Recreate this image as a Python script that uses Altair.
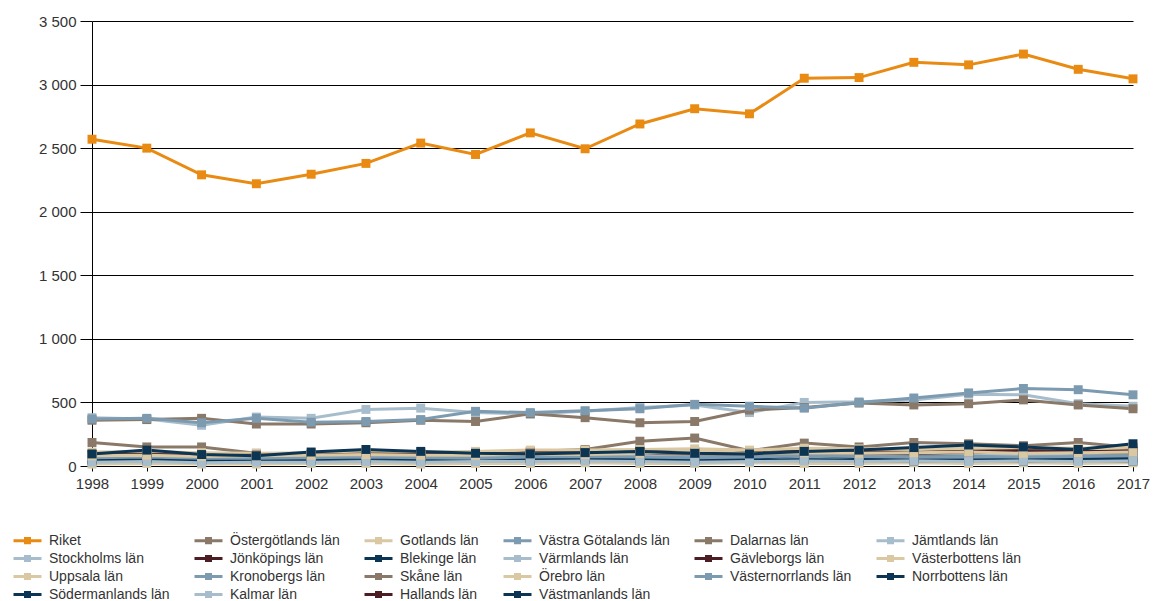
import altair as alt
import pandas as pd

years = list(range(1998, 2018))

series_names = [
    "Riket", "Stockholms län", "Uppsala län", "Södermanlands län",
    "Östergötlands län", "Jönköpings län", "Kronobergs län", "Kalmar län",
    "Gotlands län", "Blekinge län", "Skåne län", "Hallands län",
    "Västra Götalands län", "Värmlands län", "Örebro län", "Västmanlands län",
    "Dalarnas län", "Gävleborgs län", "Västernorrlands län", "Jämtlands län",
    "Västerbottens län", "Norrbottens län",
]

riket = [2570, 2500, 2290, 2220, 2295, 2380, 2540, 2450, 2620, 2495,
         2690, 2810, 2770, 3050, 3055, 3175, 3155, 3240, 3120, 3045]
stockholm = [380, 370, 320, 385, 375, 445, 455, 420, 410, 430,
             460, 480, 420, 500, 505, 520, 565, 560, 490, 470]
uppsala = [95, 100, 90, 85, 95, 100, 105, 100, 110, 115,
           105, 110, 115, 120, 125, 115, 120, 135, 130, 140]
sodermanland = [60, 65, 45, 55, 65, 70, 70, 60, 65, 70,
                75, 70, 65, 80, 75, 70, 80, 70, 75, 80]
ostergotland = [185, 150, 150, 100, 95, 105, 100, 100, 115, 130,
                195, 220, 120, 180, 150, 185, 175, 160, 185, 145]
jonkoping = [90, 95, 85, 80, 90, 100, 95, 100, 110, 120,
             120, 110, 110, 120, 115, 110, 120, 125, 115, 110]
kronoberg = [50, 55, 45, 50, 45, 55, 50, 45, 55, 50,
             60, 55, 50, 55, 60, 55, 50, 55, 60, 55]
kalmar = [70, 75, 70, 65, 70, 80, 75, 70, 75, 80,
          85, 80, 75, 85, 80, 90, 85, 80, 85, 90]
gotland = [15, 20, 15, 15, 20, 20, 15, 20, 20, 25,
           20, 20, 25, 20, 20, 25, 20, 25, 20, 25]
blekinge = [40, 45, 30, 40, 45, 40, 45, 40, 45, 50,
            45, 40, 45, 50, 45, 40, 45, 40, 45, 40]
skane = [360, 365, 375, 330, 330, 340, 360, 350, 410, 380,
         340, 350, 440, 460, 495, 480, 490, 520, 480, 450]
halland = [70, 75, 70, 75, 80, 85, 80, 85, 95, 100,
           100, 95, 90, 100, 105, 100, 110, 115, 110, 120]
vastra_gotaland = [370, 375, 340, 375, 345, 350, 365, 430, 420, 435,
                   450, 485, 470, 455, 500, 535, 575, 610, 600, 560]
varmland = [80, 85, 80, 75, 80, 90, 85, 80, 90, 95,
            95, 90, 85, 100, 95, 100, 95, 90, 95, 100]
orebro = [110, 115, 105, 100, 105, 115, 110, 115, 125, 125,
          130, 135, 125, 140, 135, 130, 140, 145, 140, 150]
vastmanland = [55, 60, 45, 55, 60, 60, 65, 60, 60, 65,
               60, 55, 55, 90, 65, 70, 70, 65, 60, 65]
dalarna = [90, 95, 85, 80, 85, 90, 90, 95, 100, 105,
           100, 95, 90, 100, 95, 100, 105, 110, 105, 100]
gavleborg = [85, 90, 80, 85, 85, 95, 90, 90, 100, 100,
             110, 105, 100, 110, 105, 100, 110, 115, 105, 115]
vasternorrland = [65, 70, 60, 60, 65, 70, 65, 60, 70, 75,
                  70, 65, 70, 80, 75, 70, 75, 70, 75, 80]
jamtland = [30, 35, 25, 30, 30, 35, 30, 35, 35, 40,
            35, 30, 35, 40, 35, 40, 35, 40, 35, 40]
vasterbotten = [80, 85, 75, 80, 85, 90, 85, 85, 95, 90,
                100, 120, 100, 105, 100, 105, 110, 100, 105, 110]
norrbotten = [95, 125, 90, 80, 110, 130, 115, 100, 95, 105,
              115, 100, 95, 115, 125, 145, 165, 150, 130, 175]

series_values = [
    riket, stockholm, uppsala, sodermanland, ostergotland, jonkoping,
    kronoberg, kalmar, gotland, blekinge, skane, halland, vastra_gotaland,
    varmland, orebro, vastmanland, dalarna, gavleborg, vasternorrland,
    jamtland, vasterbotten, norrbotten,
]

# Riket in orange, the counties cycle through a six-colour palette
orange = "#e98a12"
cycle = ["#a8bdcc", "#d9c8a2", "#0c3554", "#8a7868", "#4d1d24", "#7d9bb0"]
series_colors = [orange] + [cycle[i % 6] for i in range(21)]

# The legend is filled row by row in 6 columns; reorder the entries so
# the series read down each column (columns of 4, 4, 4, 4, 3, 3).
col_sizes = [4, 4, 4, 4, 3, 3]
columns_list = []
start = 0
for size in col_sizes:
    columns_list.append(list(range(start, start + size)))
    start += size
legend_idx = []
for r in range(max(col_sizes)):
    for col in columns_list:
        if r < len(col):
            legend_idx.append(col[r])
legend_domain = [series_names[i] for i in legend_idx]
legend_range = [series_colors[i] for i in legend_idx]

records = []
for k, (name, vals) in enumerate(zip(series_names, series_values)):
    for yr, v in zip(years, vals):
        records.append({"series": name, "year": str(yr), "value": v, "k": k})
df = pd.DataFrame(records)

# legend glyph: a line with a small filled square in the middle
glyph = ("M-2,0L2,0"
         "M-0.5,-0.3L0.5,-0.3"
         "M-0.5,0L0.5,0"
         "M-0.5,0.3L0.5,0.3")

font = "Arial, Liberation Sans, sans-serif"

color = alt.Color(
    "series:N",
    scale=alt.Scale(domain=legend_domain, range=legend_range),
    legend=alt.Legend(
        title=None,
        orient="none",
        direction="horizontal",
        legendX=-73,
        legendY=511,
        columns=6,
        columnPadding=18,
        rowPadding=1,
        symbolType=glyph,
        symbolSize=196,
        symbolStrokeWidth=3,
        labelFont=font,
        labelFontSize=14,
        labelColor="#333333",
        labelOffset=13,
        labelLimit=300,
    ),
)

chart = (
    alt.Chart(df)
    .mark_line(
        strokeWidth=3,
        point=alt.OverlayMarkDef(shape="square", filled=True, size=80, opacity=1),
    )
    .encode(
        x=alt.X(
            "year:O",
            scale=alt.Scale(type="point", padding=0),
            axis=alt.Axis(
                title=None,
                labelAngle=0,
                labelFont=font,
                labelFontSize=15,
                labelColor="#333333",
                tickSize=5,
                tickColor="#000000",
                domainColor="#000000",
                labelPadding=5,
                grid=False,
            ),
        ),
        y=alt.Y(
            "value:Q",
            scale=alt.Scale(domain=[0, 3500], nice=False),
            axis=alt.Axis(
                title=None,
                values=[0, 500, 1000, 1500, 2000, 2500, 3000, 3500],
                labelExpr="replace(format(datum.value, ','), ',', ' ')",
                labelFont=font,
                labelFontSize=15,
                labelColor="#333333",
                tickSize=12,
                tickColor="#000000",
                domainColor="#000000",
                gridColor="#000000",
                gridOpacity=1,
                labelPadding=4,
            ),
        ),
        color=color,
        order=alt.Order("k:Q"),
        detail="series:N",
    )
    .properties(
        width=1041,
        height=445,
        autosize=alt.AutoSizeParams(type="none"),
        padding={"left": 92, "top": 21, "right": 24, "bottom": 135},
    )
    .configure_view(stroke=None)
)

chart.save("out.html", embed_options={"renderer": "svg", "actions": False})
